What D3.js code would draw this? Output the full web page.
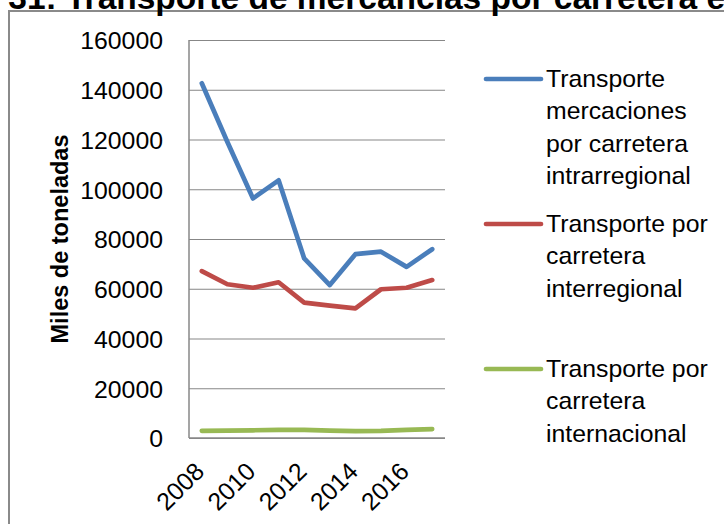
<!DOCTYPE html>
<html lang="es">
<head>
  <meta charset="UTF-8">
  <title>Transporte de mercancías por carretera</title>
  <script src="https://d3js.org/d3.v7.min.js"></script>
  <style>
    body { margin: 0; background: #fff; }
    svg { display: block; font-family: "Liberation Sans", Arial, sans-serif; }
    .tick text { font-size: 24.8px; fill: #000; }
    .grid line { stroke: #878787; stroke-width: 1; }
    .series { fill: none; stroke-width: 4.7; stroke-linejoin: round; stroke-linecap: round; }
  </style>
</head>
<body>
  <svg width="724" height="524"></svg>

  <script>
    // Data (thousands of tonnes)
    const years = ["2008", "2009", "2010", "2011", "2012", "2013", "2014", "2015", "2016", "2017"];
    const intrarregional = [142600, 119000, 96300, 103600, 72200, 61500, 73900, 74900, 68800, 75900];
    const interregional  = [67100, 61800, 60400, 62600, 54400, 53200, 52100, 59800, 60400, 63500];
    const internacional  = [2900, 3000, 3100, 3300, 3300, 3000, 2800, 2900, 3300, 3600];
    const yTicks = [0, 20000, 40000, 60000, 80000, 100000, 120000, 140000, 160000];
    const xTickLabels = ["2008", "2010", "2012", "2014", "2016"];

    const seriesList = [
      { lines: ["Transporte", "mercaciones", "por carretera", "intrarregional"], values: intrarregional, color: "#4a7ebb" },
      { lines: ["Transporte por", "carretera", "interregional"], values: interregional, color: "#be4b48" },
      { lines: ["Transporte por", "carretera", "internacional"], values: internacional, color: "#98b954" }
    ];

    const plot = { left: 189, right: 445, top: 40, bottom: 438 };
    const svg = d3.select("svg");

    // outer chart border (only top and left visible)
    svg.append("rect")
       .attr("x", 9).attr("y", 11)
       .attr("width", 800).attr("height", 600)
       .attr("fill", "none").attr("stroke", "#8a8a8a").attr("stroke-width", 2);

    // title, clipped at the top of the picture like in the source
    const title = svg.append("text")
       .attr("y", 9)
       .attr("font-size", 33.5).attr("font-weight", "bold")
       .text("Gráfico 31: Transporte de mercancías por carretera en");
    const prefixLen = title.node().getSubStringLength(0, "Gráfico 31: ".length);
    title.attr("x", 66 - prefixLen);

    const x = d3.scaleBand().domain(years).range([plot.left, plot.right]);
    const xc = d => x(d) + x.bandwidth() / 2;
    const y = d3.scaleLinear().domain([0, 160000]).range([plot.bottom, plot.top]);

    // gridlines
    svg.append("g")
       .attr("class", "grid")
       .attr("transform", `translate(${plot.left},0)`)
       .call(d3.axisLeft(y).tickValues(yTicks).tickSize(-(plot.right - plot.left)).tickFormat(""))
       .call(g => g.select(".domain").remove());

    // y axis labels
    svg.append("g")
       .attr("transform", `translate(${plot.left},0)`)
       .call(d3.axisLeft(y).tickValues(yTicks).tickSize(0).tickPadding(26).tickFormat(d3.format("d")))
       .call(g => g.select(".domain").remove())
       .call(g => g.selectAll(".tick text").attr("dy", "0.36em"));

    // axis lines
    svg.append("line")
       .attr("x1", plot.left).attr("x2", plot.left)
       .attr("y1", plot.top).attr("y2", plot.bottom)
       .attr("stroke", "#878787").attr("stroke-width", 1.5);
    svg.append("line")
       .attr("x1", plot.left).attr("x2", plot.right)
       .attr("y1", plot.bottom).attr("y2", plot.bottom)
       .attr("stroke", "#878787").attr("stroke-width", 1.5);

    // x axis labels, rotated
    svg.append("g")
       .selectAll("text")
       .data(xTickLabels)
       .join("text")
       .attr("transform", d => `translate(${xc(d) + 4},${plot.bottom + 35}) rotate(-45)`)
       .attr("text-anchor", "end")
       .attr("font-size", 24.8)
       .text(d => d);

    // y axis title
    svg.append("text")
       .attr("transform", `translate(68,${(plot.top + plot.bottom) / 2}) rotate(-90)`)
       .attr("text-anchor", "middle")
       .attr("font-size", 23.5).attr("font-weight", "bold")
       .text("Miles de toneladas");

    // series lines
    const line = d3.line().x((d, i) => xc(years[i])).y(d => y(d));
    svg.append("g")
       .selectAll("path")
       .data(seriesList)
       .join("path")
       .attr("class", "series")
       .attr("stroke", d => d.color)
       .attr("d", d => line(d.values));

    // legend
    const legendTops = [79, 224, 369];
    const legend = svg.append("g");
    seriesList.forEach((s, i) => {
      const g = legend.append("g").attr("transform", `translate(0,${legendTops[i]})`);
      g.append("line")
       .attr("x1", 486).attr("x2", 541)
       .attr("stroke", s.color).attr("stroke-width", 4.7).attr("stroke-linecap", "round");
      g.append("text")
       .attr("x", 546).attr("y", 8)
       .attr("font-size", 24.8)
       .selectAll("tspan")
       .data(s.lines)
       .join("tspan")
       .attr("x", 546)
       .attr("dy", (d, j) => j === 0 ? 0 : 32.4)
       .text(d => d);
    });
  </script>
</body>
</html>
